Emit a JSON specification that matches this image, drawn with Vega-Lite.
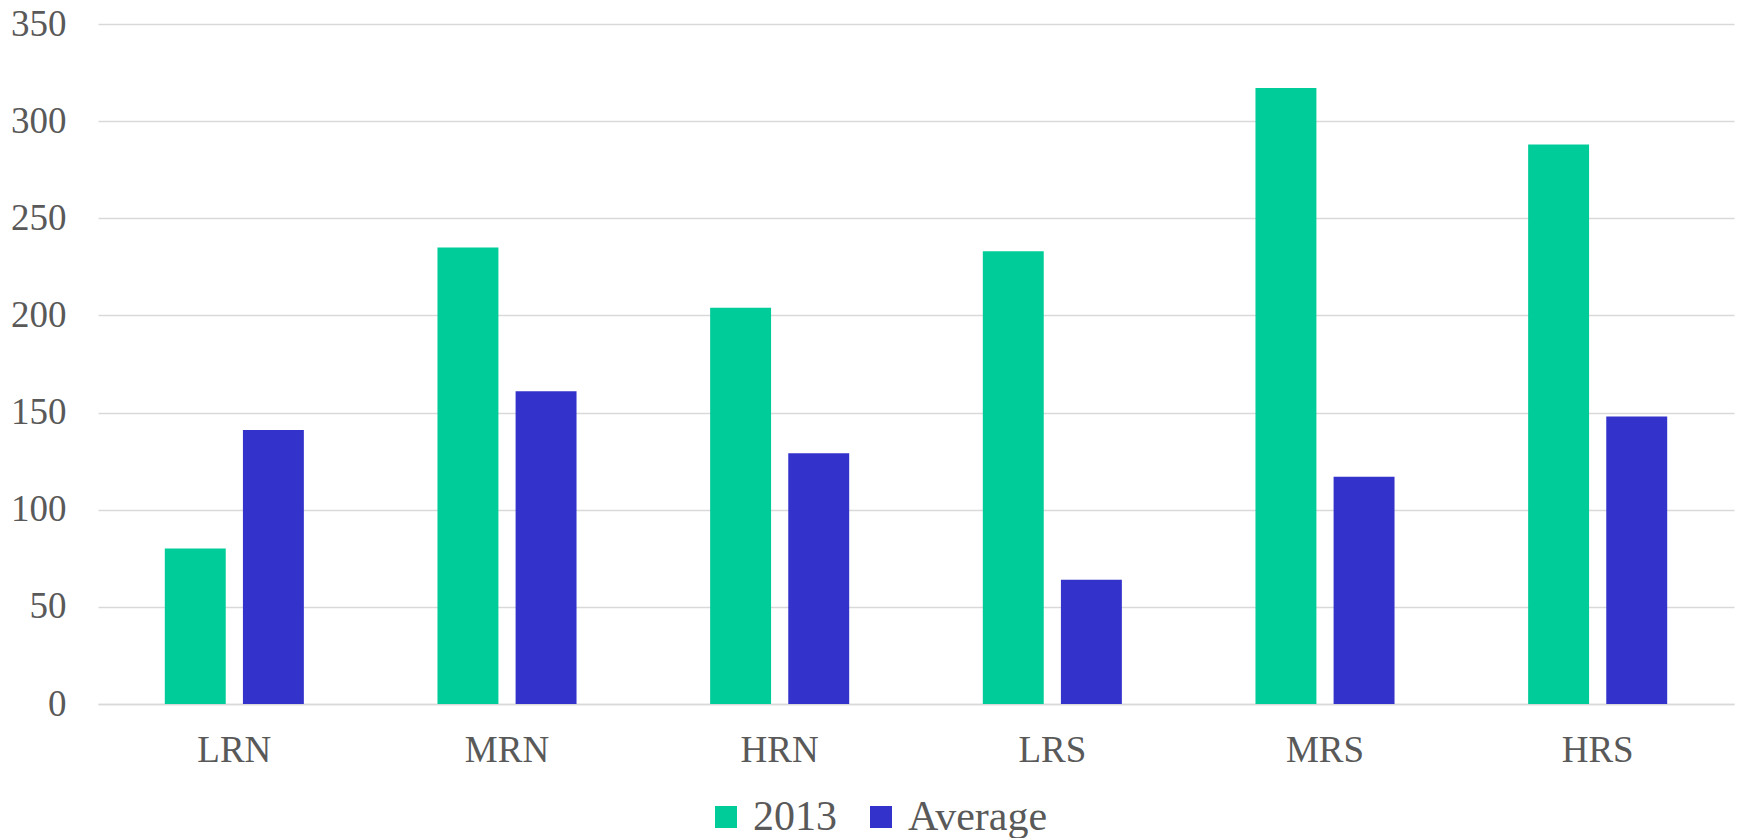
{
  "$schema": "https://vega.github.io/schema/vega-lite/v6.json",
  "width": 1636,
  "height": 680,
  "autosize": {"type": "none"},
  "padding": {"left": 98, "top": 24, "right": 4, "bottom": 134},
  "background": "white",
  "config": {
    "view": {"stroke": null},
    "font": "Liberation Serif",
    "axis": {"labelFont": "Liberation Serif", "labelColor": "#595959", "labelFontSize": 37},
    "legend": {"labelFont": "Liberation Serif", "labelColor": "#595959", "labelFontSize": 42}
  },
  "data": {
    "values": [
      {"category": "LRN", "series": "2013", "value": 80},
      {"category": "LRN", "series": "Average", "value": 141},
      {"category": "MRN", "series": "2013", "value": 235},
      {"category": "MRN", "series": "Average", "value": 161},
      {"category": "HRN", "series": "2013", "value": 204},
      {"category": "HRN", "series": "Average", "value": 129},
      {"category": "LRS", "series": "2013", "value": 233},
      {"category": "LRS", "series": "Average", "value": 64},
      {"category": "MRS", "series": "2013", "value": 317},
      {"category": "MRS", "series": "Average", "value": 117},
      {"category": "HRS", "series": "2013", "value": 288},
      {"category": "HRS", "series": "Average", "value": 148}
    ]
  },
  "mark": {"type": "bar"},
  "encoding": {
    "x": {
      "field": "category",
      "type": "nominal",
      "sort": ["LRN", "MRN", "HRN", "LRS", "MRS", "HRS"],
      "scale": {"paddingInner": 0.49, "paddingOuter": 0.245},
      "axis": {
        "title": null,
        "labelAngle": 0,
        "ticks": false,
        "labelPadding": 28,
        "domain": true,
        "domainColor": "#d9d9d9",
        "domainWidth": 1.5,
        "grid": false
      }
    },
    "xOffset": {
      "field": "series",
      "type": "nominal",
      "scale": {"paddingInner": 0.22, "paddingOuter": 0}
    },
    "y": {
      "field": "value",
      "type": "quantitative",
      "scale": {"domain": [0, 350], "nice": false},
      "axis": {
        "title": null,
        "values": [0, 50, 100, 150, 200, 250, 300, 350],
        "ticks": false,
        "domain": false,
        "labelPadding": 32,
        "gridColor": "#d9d9d9",
        "gridWidth": 1.5
      }
    },
    "color": {
      "field": "series",
      "type": "nominal",
      "scale": {"domain": ["2013", "Average"], "range": ["#00CC99", "#3333CC"]},
      "legend": {
        "title": null,
        "orient": "none",
        "direction": "horizontal",
        "legendX": 607,
        "legendY": 772,
        "padding": 0,
        "symbolType": "square",
        "symbolSize": 484,
        "symbolStrokeWidth": 0,
        "labelOffset": 6,
        "columnPadding": 23
      }
    }
  }
}
